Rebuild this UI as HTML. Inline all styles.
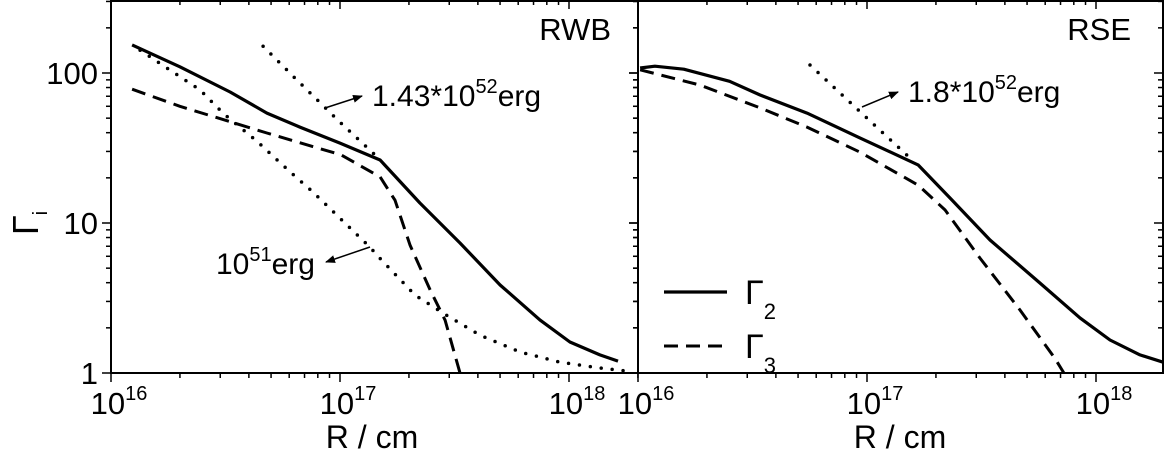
<!DOCTYPE html>
<html><head><meta charset="utf-8"><style>
html,body{margin:0;padding:0;background:#fff}
svg{display:block;font-family:"Liberation Sans",sans-serif}
</style></head><body>
<svg id="c" width="1165" height="451" viewBox="0 0 1165 451"></svg>
<script>
// ---- data (log10 R, Gamma) ----
const leftSolidR=[16.092,16.301,16.52,16.681,16.825,17.0,17.175,17.349,17.524,17.699,17.873,18.004,18.135,18.214];
const leftSolidG=[154,110,74.7,54,43.6,34.1,26.3,13.6,7.36,3.86,2.26,1.61,1.32,1.2];
const leftDashR=[16.092,16.301,16.681,17.004,17.175,17.24,17.306,17.393,17.459,17.524];
const leftDashG=[78,60,39.8,28.5,20.3,14.2,7.1,3.6,2.25,1.0];
const leftDotLowR=[16.127,16.389,16.489,16.638,16.782,16.878,16.991,17.131,17.175,17.328,17.463,17.611,17.786,17.961,18.135,18.275];
const leftDotLowG=[142,77,54,35,21.9,16.3,11.1,6.9,5.8,3.3,2.44,1.79,1.38,1.18,1.08,1.02];
const leftDotHighR=[16.664,16.803,17.0,17.14,17.175];
const leftDotHighG=[151,92.6,47,29.7,26.3];
const rightSolidR=[16.009,16.074,16.2,16.4,16.533,16.738,16.969,17.223,17.362,17.537,17.755,17.93,18.061,18.192,18.293];
const rightSolidG=[108,111,106,88,71.3,54,36.9,24.4,14.7,7.7,3.98,2.33,1.66,1.32,1.18];
const rightDashR=[16.009,16.271,16.533,16.738,16.969,17.223,17.341,17.493,17.668,17.821,17.86];
const rightDashG=[105,83,58.5,43.6,29.7,17.9,12.2,5.84,2.63,1.25,1.0];
const rightDotR=[16.751,16.952,17.197];
const rightDotG=[113,58.5,26.3];
const xTickExp=[16,17,18];
const yTickVals=[1,10,100];

const NS="http://www.w3.org/2000/svg";
const svg=document.getElementById('c');
const DEC=229, YT=0, YB=373;
function mk(tag,attrs,parent){const e=document.createElementNS(NS,tag);for(const k in attrs)e.setAttribute(k,attrs[k]);(parent||svg).appendChild(e);return e;}
const panels=[{x0:111,x1:638,name:'rwb'},{x0:638,x1:1163,name:'rse'}];
function X(p,lr){return p.x0+(lr-16)*DEC;}
function Y(g){return 73-(Math.log10(g)-2)*150;}
function path(p,rs,gs,style,name){
  let d=rs.map((r,i)=>(i?'L':'M')+X(p,r).toFixed(1)+','+Y(gs[i]).toFixed(1)).join(' ');
  const e=mk('path',Object.assign({d:d,fill:'none',stroke:'#000','stroke-linejoin':'round'},style));
  
  
}
panels.forEach((p,pi)=>{
  const g=mk('g',{});
  
  
  const f=mk('rect',{x:p.x0,y:1,width:p.x1-p.x0,height:YB-1,fill:'none',stroke:'#000','stroke-width':2},g);
  
  
  for(let e=16;e<=18;e++){for(let m=1;m<=9;m++){
    const lr=e+Math.log10(m); const x=X(p,lr); if(x>p.x1+0.5)continue;
    const L=m===1?9:5;
    mk('line',{x1:x,y1:YB,x2:x,y2:YB+L,stroke:'#000','stroke-width':1.5},g);
    mk('line',{x1:x,y1:0,x2:x,y2:L,stroke:'#000','stroke-width':1.5},g);
  }}
  for(let e=0;e<=2;e++){for(let m=1;m<=9;m++){
    const v=m*Math.pow(10,e); const y=Y(v); if(y<0)continue;
    const L=m===1?9:5;
    mk('line',{x1:p.x0-L,y1:y,x2:p.x0,y2:y,stroke:'#000','stroke-width':1.5},g);
    mk('line',{x1:p.x1-L,y1:y,x2:p.x1,y2:y,stroke:'#000','stroke-width':1.5},g);
  }}
  xTickExp.forEach(e=>{
    const t=mk('text',{x:X(p,e)+8,y:414,'font-size':31,'text-anchor':'middle'},g);
    
    
    t.innerHTML='10<tspan dy="-14" font-size="20">'+e+'</tspan>';
  });
  const xt=mk('text',{x:pi?900:372,y:448,'font-size':32,'text-anchor':'middle'},g);
  
  
  xt.textContent='R / cm';
});
yTickVals.forEach(v=>{
  const t=mk('text',{x:98,y:Y(v)+11,'font-size':31,'text-anchor':'end'});
  
  
  t.textContent=String(v);
});
const yt=mk('text',{x:0,y:0,'font-size':36,'text-anchor':'middle',transform:'translate(38,223) rotate(-90)'});


yt.innerHTML='Γ<tspan dy="9" font-size="20">i</tspan>';

const S={'stroke-width':3.2},D={'stroke-width':3,'stroke-dasharray':'14 8'},O={'stroke-width':3.5,'stroke-dasharray':'0 11','stroke-linecap':'round'};
const L=panels[0],R=panels[1];
path(L,leftDotLowR,leftDotLowG,O,'rwb-dotted-1e51');
path(L,leftDotHighR,leftDotHighG,O,'rwb-dotted-1.43e52');
path(L,leftSolidR,leftSolidG,S,'rwb-gamma2-line');
path(L,leftDashR,leftDashG,D,'rwb-gamma3-line');
path(R,rightDotR,rightDotG,O,'rse-dotted-1.8e52');
path(R,rightSolidR,rightSolidG,S,'rse-gamma2-line');
path(R,rightDashR,rightDashG,D,'rse-gamma3-line');

mk('defs',{}).innerHTML='<marker id="ah" markerWidth="10" markerHeight="8" refX="9" refY="4" orient="auto" markerUnits="userSpaceOnUse"><path d="M0,0 L10,4 L0,8 z"/></marker>';
[[325,108,362,96,'arrow-1.43e52'],[370,247,326,262,'arrow-1e51'],[862,107,898,92,'arrow-1.8e52']].forEach(a=>{
  const e=mk('line',{x1:a[0],y1:a[1],x2:a[2],y2:a[3],stroke:'#000','stroke-width':1.5,'marker-end':'url(#ah)'});
  
  
});
[[372,106,'1.43*10','52','erg','label-1.43e52'],[216,274,'10','51','erg','label-1e51'],[908,102,'1.8*10','52','erg','label-1.8e52']].forEach(a=>{
  const t=mk('text',{x:a[0],y:a[1],'font-size':30});
  
  
  t.innerHTML=a[2]+'<tspan dy="-13" font-size="20">'+a[3]+'</tspan><tspan dy="13">'+a[4]+'</tspan>';
});
[[611,40,'RWB','rwb-title'],[1131,40,'RSE','rse-title']].forEach(a=>{
  const t=mk('text',{x:a[0],y:a[1],'font-size':31,'text-anchor':'end'});
  
  
  t.textContent=a[2];
});
const lg=mk('g',{});


[[292,S,'2','legend-gamma2'],[346,D,'3','legend-gamma3']].forEach(a=>{
  const e=mk('line',Object.assign({x1:664,y1:a[0],x2:727,y2:a[0],stroke:'#000'},a[1]),lg);
  
  
  const t=mk('text',{x:745,y:a[0]+12,'font-size':34},lg);
  
  
  t.innerHTML='Γ<tspan dy="15" font-size="22">'+a[2]+'</tspan>';
});
</script>
</body></html>
